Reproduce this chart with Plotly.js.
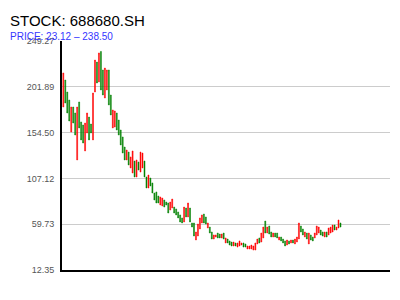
<!DOCTYPE html>
<html><head><meta charset="utf-8">
<script src="https://cdn.plot.ly/plotly-3.0.1.min.js"></script>
<style>html,body{margin:0;padding:0;background:#fff}#chart{width:400px;height:300px}</style>
</head><body><div id="chart"></div>
<script>
const open = [181.0,208.9,196.5,188.2,155.1,181.0,174.8,126.2,186.2,165.5,
162.4,135.5,154.1,170.6,163.4,146.9,196.5,227.5,206.9,238.5,
219.3,190.3,198.6,219.3,193.4,159.3,160.3,174.8,167.5,157.2,
150.0,139.6,126.2,134.4,117.9,112.7,125.1,108.6,124.1,113.7,
117.9,125.1,108.6,97.2,107.5,102.4,92.0,93.1,88.9,79.6,
78.6,84.8,82.7,81.7,74.4,76.5,77.5,75.5,72.4,69.3,
66.2,62.0,76.5,67.2,76.5,61.0,61.0,43.4,47.5,54.8,
61.0,70.3,67.2,55.8,56.8,51.7,44.4,46.5,50.6,49.6,
45.5,50.6,40.3,44.4,42.4,41.3,37.2,40.3,36.1,37.2,
38.2,40.3,39.3,34.1,34.1,34.1,33.0,33.0,39.3,45.5,
41.3,45.5,63.0,50.6,57.9,51.7,46.5,50.6,50.6,43.4,
46.5,44.4,42.4,38.2,42.4,40.3,43.4,39.3,41.3,44.4,
57.9,54.8,46.5,50.6,39.3,48.6,46.5,45.5,48.6,50.6,
53.7,51.7,46.5,51.7,48.6,50.6,51.7,58.9,53.7,55.8,
61.0];
const close = [216.2,185.1,174.8,166.5,181.0,164.4,152.0,181.0,159.3,146.9,
143.7,164.4,174.8,146.9,154.1,195.5,229.6,205.8,236.9,198.6,
193.4,221.3,219.3,183.1,172.7,177.9,176.9,157.2,152.0,141.7,
133.4,126.2,136.5,121.0,129.3,135.5,108.6,126.2,115.8,134.4,
133.4,108.6,97.2,110.6,99.3,92.0,84.8,81.7,81.7,87.9,
86.8,77.5,79.6,71.3,82.7,85.8,71.3,69.3,66.2,62.0,
61.0,77.5,67.2,81.7,62.0,56.8,47.5,51.7,59.9,66.2,
69.3,61.0,59.9,61.0,50.6,44.4,48.6,48.6,45.5,45.5,
49.6,44.4,45.5,40.3,38.2,37.2,41.3,37.2,40.3,42.4,
40.3,36.1,36.1,37.2,37.2,38.2,37.2,40.3,44.4,40.3,
50.6,56.8,50.6,56.8,49.6,46.5,50.6,46.5,45.5,46.5,
42.4,40.3,37.2,43.4,39.3,43.4,40.3,44.4,46.5,61.0,
51.7,48.6,51.7,44.4,50.6,43.4,42.4,50.6,57.9,56.8,
48.6,47.5,51.7,46.5,55.8,56.8,58.9,53.7,56.8,64.1,
56.8];
const high = [216.2,208.9,196.5,188.2,181.0,181.0,174.8,181.0,186.2,165.5,
162.4,164.4,174.8,170.6,163.4,195.5,229.6,227.5,236.9,238.5,
219.3,221.3,219.3,219.3,193.4,177.9,176.9,174.8,167.5,157.2,
150.0,139.6,136.5,134.4,129.3,135.5,125.1,126.2,124.1,134.4,
133.4,125.1,108.6,110.6,107.5,102.4,92.0,93.1,88.9,87.9,
86.8,84.8,82.7,81.7,82.7,85.8,77.5,75.5,72.4,69.3,
66.2,77.5,76.5,81.7,76.5,61.0,61.0,51.7,59.9,66.2,
69.3,70.3,67.2,61.0,56.8,51.7,48.6,48.6,50.6,49.6,
49.6,50.6,45.5,44.4,42.4,41.3,41.3,40.3,40.3,42.4,
40.3,40.3,39.3,37.2,37.2,38.2,37.2,40.3,44.4,45.5,
50.6,56.8,63.0,56.8,57.9,51.7,50.6,50.6,50.6,46.5,
46.5,44.4,42.4,43.4,42.4,43.4,43.4,44.4,46.5,61.0,
57.9,54.8,51.7,50.6,50.6,48.6,46.5,50.6,57.9,56.8,
53.7,51.7,51.7,51.7,55.8,56.8,58.9,58.9,56.8,64.1,
61.0];
const low = [181.0,185.1,174.8,166.5,155.1,164.4,152.0,126.2,159.3,146.9,
143.7,135.5,154.1,146.9,154.1,146.9,196.5,205.8,206.9,198.6,
193.4,190.3,198.6,183.1,172.7,159.3,160.3,157.2,152.0,141.7,
133.4,126.2,126.2,121.0,117.9,112.7,108.6,108.6,115.8,113.7,
117.9,108.6,97.2,97.2,99.3,92.0,84.8,81.7,81.7,79.6,
78.6,77.5,79.6,71.3,74.4,76.5,71.3,69.3,66.2,62.0,
61.0,62.0,67.2,67.2,62.0,56.8,47.5,43.4,47.5,54.8,
61.0,61.0,59.9,55.8,50.6,44.4,44.4,46.5,45.5,45.5,
45.5,44.4,40.3,40.3,38.2,37.2,37.2,37.2,36.1,37.2,
38.2,36.1,36.1,34.1,34.1,34.1,33.0,33.0,39.3,40.3,
41.3,45.5,50.6,50.6,49.6,46.5,46.5,46.5,45.5,43.4,
42.4,40.3,37.2,38.2,39.3,40.3,40.3,39.3,41.3,44.4,
51.7,48.6,46.5,44.4,39.3,43.4,42.4,45.5,48.6,50.6,
48.6,47.5,46.5,46.5,48.6,50.6,51.7,53.7,53.7,55.8,
56.8];
const yTickVals = [12.35, 59.73, 107.12, 154.50, 201.89, 249.27];
const yTickText = ['12.35', '59.73', '107.12', '154.50', '201.89', '249.27'];
const titleText = 'STOCK: 688680.SH';
const subtitleText = 'PRICE: 23.12 \u2013 238.50';
const day = open.map((_, i) => i);

Plotly.newPlot('chart', [{
  type: 'candlestick', x: day, open: open, high: high, low: low, close: close,
  increasing: {line: {color: '#ff0000', width: 0.5}, fillcolor: '#ff0000'},
  decreasing: {line: {color: '#008000', width: 0.5}, fillcolor: '#008000'},
  whiskerwidth: 0, hoverinfo: 'none'
}], {
  width: 400, height: 300,
  margin: {l: 62, r: 10, t: 41, b: 30},
  paper_bgcolor: '#ffffff', plot_bgcolor: '#ffffff',
  showlegend: false,
  font: {family: 'Liberation Sans, Arial, sans-serif'},
  title: {text: titleText, font: {size: 15, color: '#000000'}, xref: 'container', x: 0.025, xanchor: 'left', yref: 'container', y: 0.93, yanchor: 'middle'},
  xaxis: {range: [-0.66, 165], showgrid: false, zeroline: false, showticklabels: false, ticks: '', showline: true, linecolor: '#000000', linewidth: 2, rangeslider: {visible: false}, fixedrange: true},
  yaxis: {range: [12.35, 249.27], tickvals: yTickVals, ticktext: yTickText, showgrid: true, gridcolor: '#cccccc', gridwidth: 1, zeroline: false, showline: true, linecolor: '#000000', linewidth: 2, ticks: '', tickfont: {size: 9, color: '#555555'}, ticklabelstandoff: 4, fixedrange: true},
  annotations: [{text: subtitleText, xref: 'paper', yref: 'paper', x: -54 / 328, y: (270 - 36.5) / 229, xanchor: 'left', yanchor: 'middle', showarrow: false, font: {size: 10, color: '#3535ff'}}]
}, {staticPlot: true});
</script>
</body></html>
